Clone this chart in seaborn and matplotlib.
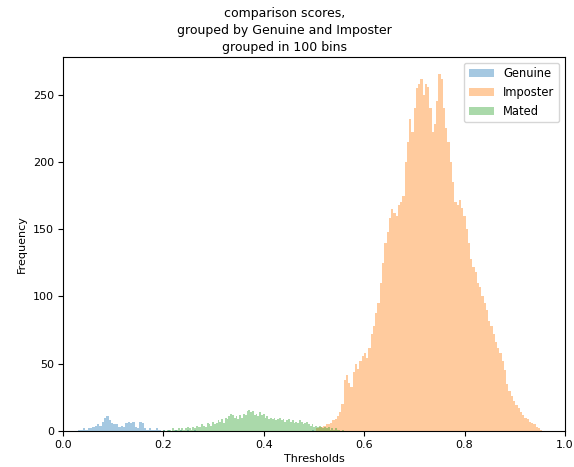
import numpy as np
import pandas as pd
import matplotlib
matplotlib.use("Agg")
import matplotlib.pyplot as plt
import seaborn as sns

# bin ranges (each series is binned in 100 bins over its own range)
genuine_range = (0.03, 0.50)
imposter_range = (0.505, 0.955)
mated_range = (0.20, 0.56)

genuine_counts = [
    1, 1, 2, 1, 2, 2, 3, 4, 5, 4,
    7, 10, 11, 8, 6, 5, 5, 3, 4, 3,
    6, 7, 6, 7, 3, 2, 7, 6, 2, 1,
    2, 1, 1, 2, 1, 0, 1, 0, 1, 0,
    0, 1, 0, 1, 0, 0, 1, 0, 0, 1,
    0, 0, 0, 0, 0, 0, 0, 0, 0, 0,
    0, 0, 0, 0, 0, 0, 0, 0, 0, 0,
    0, 0, 0, 0, 0, 0, 0, 0, 0, 0,
    0, 0, 0, 0, 0, 0, 0, 0, 0, 0,
    0, 0, 0, 0, 0, 0, 0, 0, 0, 1,
]

imposter_counts = [
    2, 3, 3, 4, 5, 5, 6, 8, 9, 11,
    14, 20, 38, 42, 36, 33, 44, 50, 46, 52,
    56, 58, 54, 62, 72, 78, 88, 95, 110, 125,
    140, 148, 158, 165, 162, 160, 168, 170, 175, 200,
    215, 232, 222, 240, 255, 258, 262, 250, 258, 256,
    240, 222, 228, 245, 265, 262, 240, 225, 215, 200,
    185, 170, 168, 172, 166, 160, 150, 140, 128, 122,
    118, 110, 107, 100, 95, 90, 82, 78, 72, 66,
    62, 58, 52, 45, 35, 30, 26, 22, 19, 17,
    14, 12, 10, 9, 7, 6, 5, 3, 2, 1,
]

mated_counts = [
    1, 0, 1, 1, 0, 2, 1, 1, 2, 1,
    2, 1, 2, 3, 2, 1, 3, 2, 4, 3,
    3, 5, 4, 3, 6, 5, 4, 7, 5, 6,
    8, 7, 9, 6, 10, 9, 11, 13, 12, 10,
    11, 9, 12, 10, 13, 12, 15, 16, 14, 15,
    12, 13, 11, 14, 12, 13, 10, 11, 9, 10,
    9, 10, 8, 9, 10, 8, 9, 7, 8, 9,
    7, 8, 6, 7, 6, 8, 7, 5, 6, 7,
    5, 4, 5, 3, 4, 3, 4, 3, 2, 3,
    2, 3, 1, 2, 1, 2, 1, 1, 0, 1,
]

series = [
    ("Genuine", genuine_range, genuine_counts, "#1f77b4"),
    ("Imposter", imposter_range, imposter_counts, "#ff7f0e"),
    ("Mated", mated_range, mated_counts, "#2ca02c"),
]

fig = plt.figure(figsize=(5.74, 4.67), dpi=100)
ax = fig.add_axes([0.1098, 0.077, 0.8744, 0.801])

for name, (lo, hi), counts, color in series:
    edges = np.linspace(lo, hi, len(counts) + 1)
    df = pd.DataFrame({"score": (edges[:-1] + edges[1:]) / 2, "n": counts})
    sns.histplot(data=df, x="score", weights="n", bins=len(counts),
                 binrange=(lo, hi), stat="count",
                 element="bars", fill=True, alpha=0.4, linewidth=0,
                 color=color, label=name, ax=ax)

ax.set_xlim(0, 1.0)
ax.set_ylim(0, 278)
ax.set_xticks([0.0, 0.2, 0.4, 0.6, 0.8, 1.0])
ax.set_yticks([0, 50, 100, 150, 200, 250])
ax.tick_params(labelsize=8, length=3.5, pad=3)
ax.set_xlabel("Thresholds", fontsize=8, labelpad=3)
ax.set_ylabel("Frequency", fontsize=8, labelpad=4)
# title is centred on the figure, not the axes
fig.suptitle("comparison scores,\ngrouped by Genuine and Imposter\ngrouped in 100 bins",
             fontsize=9, x=0.495, y=0.985, va="top", linespacing=1.4)
ax.legend(loc="upper right", fontsize=8.3, handlelength=2.2)

fig.savefig("out.png", dpi=100)
